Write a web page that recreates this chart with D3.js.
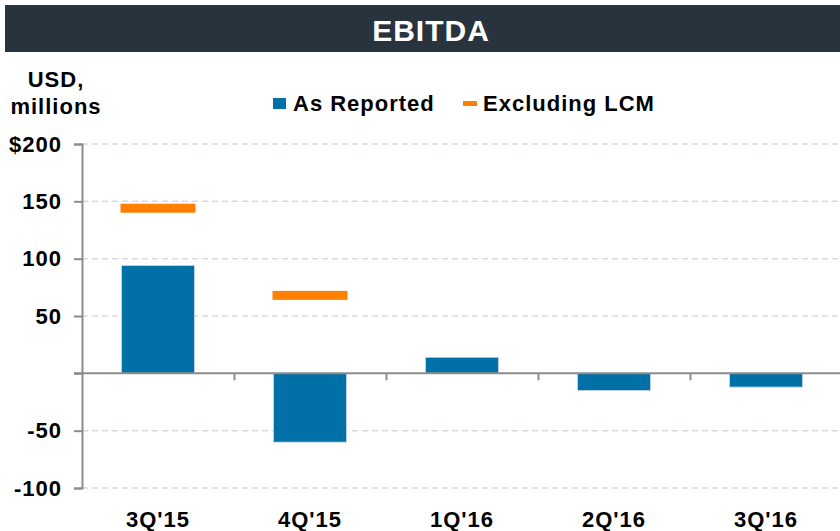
<!DOCTYPE html>
<html>
<head>
<meta charset="utf-8">
<script src="https://cdn.jsdelivr.net/npm/d3@7"></script>
<style>
  body { margin: 0; background: #fff; }
  text { font-family: "Liberation Sans", Arial, sans-serif; font-weight: bold; letter-spacing: 1px; }
</style>
</head>
<body>
<div id="chart"></div>
<script>
var categories = ["3Q'15", "4Q'15", "1Q'16", "2Q'16", "3Q'16"];
var asReported = [94, -60, 14, -15, -12];
var excludingLCM = [144, 68, null, null, null];
var yTicks = [200, 150, 100, 50, 0, -50, -100];

var svgWidth = 840;
var svgHeight = 531;

var margin = { top: 144, right: -2, bottom: 43, left: 82 };

var svg = d3.select("#chart")
  .append("svg")
  .attr("width", svgWidth)
  .attr("height", svgHeight);

// title bar
svg.append("rect")
  .attr("x", 5).attr("y", 5)
  .attr("width", 835).attr("height", 47)
  .attr("fill", "#28333d");

svg.append("text")
  .attr("x", 431).attr("y", 41)
  .attr("text-anchor", "middle")
  .attr("fill", "#fff")
  .style("font-size", "30px")
  .text("EBITDA");

// unit label
svg.append("text")
  .attr("x", 56).attr("y", 87)
  .attr("text-anchor", "middle")
  .style("font-size", "22px")
  .text("USD,");
svg.append("text")
  .attr("x", 56).attr("y", 114)
  .attr("text-anchor", "middle")
  .style("font-size", "22px")
  .text("millions");

var xScale = d3.scaleBand()
  .domain(categories)
  .range([margin.left, svgWidth - margin.right])
  .paddingInner(0.52)
  .paddingOuter(0.26);

var yScale = d3.scaleLinear()
  .domain([-100, 200])
  .range([svgHeight - margin.bottom, margin.top]);

// gridlines
svg.append("g")
  .selectAll("line")
  .data(yTicks.filter(d => d !== 0))
  .enter()
  .append("line")
  .attr("x1", margin.left)
  .attr("x2", svgWidth)
  .attr("y1", d => yScale(d))
  .attr("y2", d => yScale(d))
  .attr("stroke", "#d5dbe0")
  .attr("stroke-width", 1.5)
  .attr("stroke-dasharray", "6,4");

// bars
svg.append("g")
  .selectAll("rect")
  .data(asReported)
  .enter()
  .append("rect")
  .attr("x", (d, i) => xScale(categories[i]))
  .attr("width", xScale.bandwidth())
  .attr("y", d => yScale(Math.max(0, d)))
  .attr("height", d => Math.abs(yScale(d) - yScale(0)))
  .attr("fill", "#0070a6")
  .attr("stroke", "#c9d9e6")
  .attr("stroke-width", 0.8);

// excluding LCM markers
svg.append("g")
  .selectAll("rect")
  .data(excludingLCM.map((v, i) => ({ v: v, c: categories[i] })).filter(d => d.v !== null))
  .enter()
  .append("rect")
  .attr("x", d => xScale(d.c) - 1)
  .attr("width", xScale.bandwidth() + 2)
  .attr("y", d => yScale(d.v) - 4.5)
  .attr("height", 9)
  .attr("fill", "#ff7f00");

// zero line with category ticks
var zeroY = yScale(0);
var xAxis = d3.axisBottom(d3.scaleLinear().domain([0, 5]).range([margin.left, margin.left + 5 * xScale.step()]))
  .tickValues([1, 2, 3, 4])
  .tickSize(7)
  .tickFormat("");
var xAxisG = svg.append("g")
  .attr("transform", `translate(0, ${zeroY})`)
  .call(xAxis);
xAxisG.select(".domain").remove();
xAxisG.selectAll("line").attr("stroke", "#8c8c8c").attr("stroke-width", 2);
svg.append("line")
  .attr("x1", margin.left - 8).attr("x2", svgWidth)
  .attr("y1", zeroY).attr("y2", zeroY)
  .attr("stroke", "#8c8c8c").attr("stroke-width", 2);

// y axis
var yAxis = d3.axisLeft(yScale)
  .tickValues(yTicks)
  .tickSize(8)
  .tickPadding(12)
  .tickFormat(d => d === 0 ? "" : (d === 200 ? "$" + d : d));
var yAxisG = svg.append("g")
  .attr("transform", `translate(${margin.left}, 0)`)
  .call(yAxis);
yAxisG.select(".domain").attr("stroke", "#8c8c8c").attr("stroke-width", 2);
yAxisG.selectAll("line").attr("stroke", "#8c8c8c").attr("stroke-width", 2);
yAxisG.selectAll("text")
  .attr("fill", "#000")
  .style("font-size", "22px")
  .style("font-family", "'Liberation Sans', Arial, sans-serif")
  .style("font-weight", "bold");

// category labels
svg.append("g")
  .selectAll("text")
  .data(categories)
  .enter()
  .append("text")
  .attr("x", d => xScale(d) + xScale.bandwidth() / 2)
  .attr("y", 527)
  .attr("text-anchor", "middle")
  .style("font-size", "22px")
  .text(d => d);

// legend
svg.append("rect")
  .attr("x", 273).attr("y", 98)
  .attr("width", 13).attr("height", 11)
  .attr("fill", "#0070a6");
svg.append("text")
  .attr("x", 293).attr("y", 111)
  .style("font-size", "22px")
  .text("As Reported");
svg.append("rect")
  .attr("x", 463).attr("y", 101)
  .attr("width", 14).attr("height", 5)
  .attr("fill", "#ff7f00");
svg.append("text")
  .attr("x", 483).attr("y", 111)
  .style("font-size", "22px")
  .text("Excluding LCM");
</script>
</body>
</html>
